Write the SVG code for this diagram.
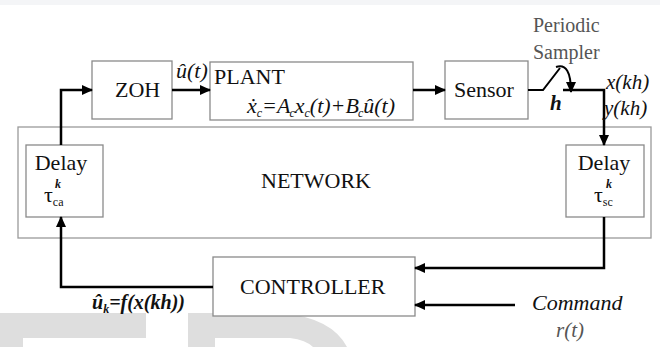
<svg xmlns="http://www.w3.org/2000/svg" width="666" height="347" viewBox="0 0 666 347">
<defs>
<marker id="ah" markerWidth="11" markerHeight="10" refX="10" refY="5" orient="auto" markerUnits="userSpaceOnUse">
<path d="M0,0 L11,5 L0,10 Z" fill="#000"/>
</marker>
<style>
.box{fill:#fff;stroke:#8a8a8a;stroke-width:1.3}
.net{fill:none;stroke:#9a9a9a;stroke-width:1.3}
text{font-family:'Liberation Serif','Times New Roman',serif;font-size:22px;fill:#111}
.i{font-style:italic}
.b{font-weight:bold}
.g{fill:#555}
.w{fill:#dedede}
.c{fill:none;stroke:#000;stroke-width:2.5}
.thin{stroke-width:2}
.s{font-size:12px}
.m{font-size:20px}
.n{font-size:21px}
</style>
</defs>
<rect x="0" y="0" width="660" height="5" fill="#f4f5f7"/>
<g id="watermark">
<path class="w" d="M0,313 H146 V338 H23 V347 H0 Z"/>
<path class="w" d="M188,313 H282 Q332,318 347,347 H188 Z"/>
<path fill="#fff" d="M215,338 H290 Q306,340 313,347 H215 Z"/>
</g>
<g id="network">
<rect class="net" x="18" y="127" width="633" height="111"/>
<text x="261" y="188">NETWORK</text>
</g>
<g id="zoh">
<rect class="box" x="92" y="61" width="80" height="58"/>
<text x="115" y="97">ZOH</text>
</g>
<g id="plant">
<rect class="box" x="210" y="62" width="203" height="58"/>
<text x="214" y="84">PLANT</text>
<text class="i" x="247" y="113">ẋ<tspan class="s" dy="4">c</tspan><tspan dy="-4">=A</tspan><tspan class="s" dy="4" dx="-1">c</tspan><tspan dy="-4">x</tspan><tspan class="s" dy="4">c</tspan><tspan dy="-4">(t)+B</tspan><tspan class="s" dy="4" dx="-1">c</tspan><tspan dy="-4">û(t)</tspan></text>
</g>
<g id="sensor">
<rect class="box" x="445" y="61" width="83" height="58"/>
<text x="454" y="97">Sensor</text>
</g>
<g id="sampler">
<text class="g m" x="533" y="32">Periodic</text>
<text class="g m" x="533" y="59">Sampler</text>
<text class="i b n" x="550" y="110">h</text>
</g>
<g id="delay-ca">
<rect class="box" x="26" y="145" width="77" height="72"/>
<text x="61" y="170" text-anchor="middle">Delay</text>
<text x="44" y="202">τ<tspan class="s" dy="4">ca</tspan></text>
<text class="i b s" x="55" y="188">k</text>
</g>
<g id="delay-sc">
<rect class="box" x="566" y="145" width="78" height="72"/>
<text x="604" y="170" text-anchor="middle">Delay</text>
<text x="594" y="202">τ<tspan class="s" dy="4">sc</tspan></text>
<text class="i b s" x="606" y="188">k</text>
</g>
<g id="controller">
<rect class="box" x="213" y="257" width="202" height="59"/>
<text x="240" y="294">CONTROLLER</text>
</g>
<g id="connectors">
<path class="c" d="M61,145 V90 H92" marker-end="url(#ah)"/>
<path class="c" d="M172,90 H210" marker-end="url(#ah)"/>
<path class="c" d="M413,90 H445" marker-end="url(#ah)"/>
<path class="c thin" d="M528,90 H543 L560,68"/>
<path class="c thin" d="M556,67 Q571,62 571,92" marker-end="url(#ah)"/>
<path class="c" d="M563,90 H604 V145" marker-end="url(#ah)"/>
<path class="c" d="M604,217 V268 H415" marker-end="url(#ah)"/>
<path class="c" d="M515,305 H415" marker-end="url(#ah)"/>
<path class="c" d="M213,287 H61 V217" marker-end="url(#ah)"/>
</g>
<g id="labels">
<text class="i" x="176" y="78">û(t)</text>
<text class="i n" x="606" y="89">x(kh)</text>
<text class="i n" x="604" y="115">y(kh)</text>
<text class="i b m" x="92" y="309">û<tspan class="s" dy="4">k</tspan><tspan dy="-4">=f(x(kh))</tspan></text>
<text class="i" x="532" y="310">Command</text>
<text class="i g n" x="570" y="337" text-anchor="middle">r(t)</text>
</g>
</svg>
